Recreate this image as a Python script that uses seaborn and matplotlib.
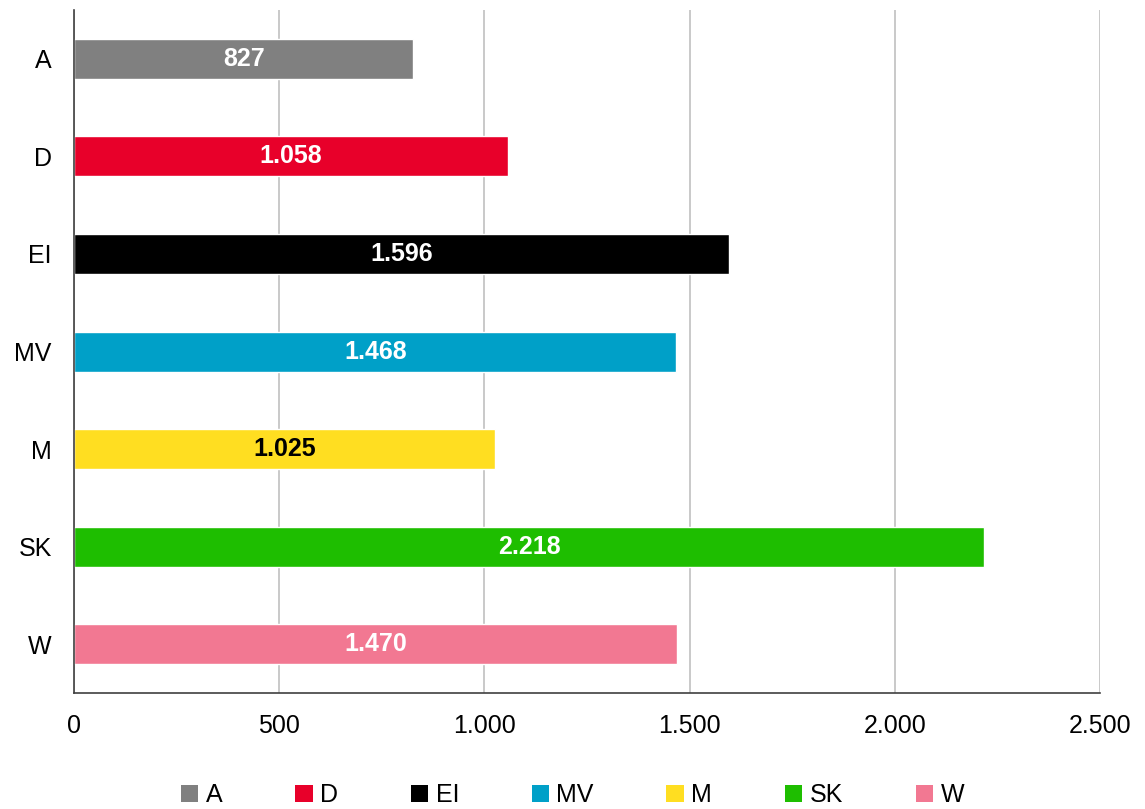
import numpy as np
import pandas as pd
import matplotlib
matplotlib.use("Agg")
import matplotlib.pyplot as plt
from matplotlib.ticker import FuncFormatter, FixedLocator
from matplotlib.patches import Patch
import seaborn as sns

# data
categories = ["A", "D", "EI", "MV", "M", "SK", "W"]
values = [827, 1058, 1596, 1468, 1025, 2218, 1470]
colors = ["#808080", "#E8002A", "#000000", "#00A0C8", "#FFDE21", "#1EBE00", "#F27892"]
label_colors = ["white", "white", "white", "white", "black", "white", "white"]

df = pd.DataFrame({"cat": categories, "value": values})

sns.set_style("white")
plt.rcParams["font.family"] = ["Liberation Sans", "DejaVu Sans"]
plt.rcParams["text.color"] = "black"
plt.rcParams["xtick.color"] = "black"
plt.rcParams["ytick.color"] = "black"

fig = plt.figure(figsize=(11.45, 8.09), dpi=100)
ax = fig.add_axes([0.0646, 0.1434, 0.8961, 0.8442])

sns.barplot(data=df, y="cat", x="value", hue="cat", palette=colors,
            order=categories, hue_order=categories, dodge=False,
            width=0.41, legend=False, ax=ax, saturation=1)

# value labels, centred in each bar
fmt = lambda v: f"{v:,.0f}".replace(",", ".")
for i, (v, lc) in enumerate(zip(values, label_colors)):
    ax.text(v / 2, i, fmt(v), ha="center", va="center", color=lc,
            fontsize=18, fontweight="bold")

ax.set_xlim(0, 2500)
ax.set_ylim(len(categories) - 0.5, -0.5)
ax.xaxis.set_major_locator(FixedLocator([0, 500, 1000, 1500, 2000, 2500]))
ax.xaxis.set_major_formatter(FuncFormatter(lambda x, p: fmt(x)))
ax.grid(axis="x", color="#C0C0C0", linewidth=1.2)
ax.set_axisbelow(True)

ax.set_xlabel("")
ax.set_ylabel("")

for s in ["top", "right"]:
    ax.spines[s].set_visible(False)
for s in ["left", "bottom"]:
    ax.spines[s].set_color("#404040")
    ax.spines[s].set_linewidth(1.2)

# category ticks sit between bars
ax.set_yticks(range(len(categories)))
ax.set_yticklabels(categories)
ax.tick_params(axis="y", which="major", length=0, pad=16, labelsize=18, labelcolor="black")
ax.set_yticks(np.arange(-0.5, len(categories), 1.0), minor=True)
ax.tick_params(axis="y", which="minor", length=8, width=1.2, color="#404040", direction="out")
ax.tick_params(axis="x", length=8, width=1.2, color="#404040", direction="out", pad=7,
               labelsize=18, labelcolor="black")

handles = [Patch(facecolor=c, edgecolor="none") for c in colors]
fig.legend(handles, categories, loc="center", bbox_to_anchor=(0.5, 0.017),
           ncol=len(categories), frameon=False, fontsize=18,
           handlelength=0.7, handleheight=0.7, handletextpad=0.3, columnspacing=2.9)

fig.savefig("out.png", dpi=100)
